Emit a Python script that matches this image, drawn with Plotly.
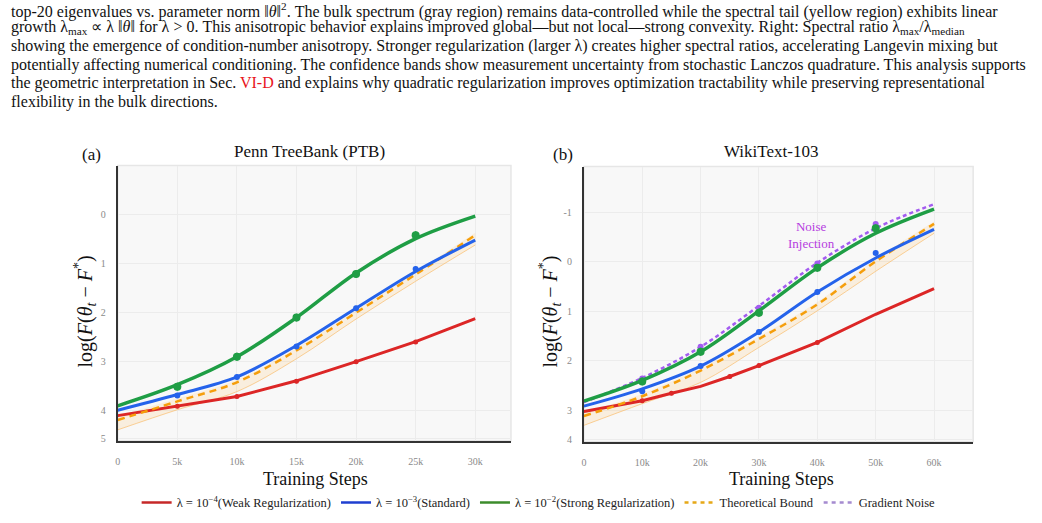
import plotly.graph_objects as go

# ---------------- data ----------------
steps_ptb = [0, 5000, 10000, 15000, 20000, 25000, 30000]
green_ptb = [3.91, 3.48, 2.91, 2.11, 1.20, 0.50, 0.04]
blue_ptb = [4.00, 3.68, 3.32, 2.68, 1.92, 1.17, 0.53]
red_ptb = [4.11, 3.92, 3.72, 3.40, 3.01, 2.60, 2.13]
theory_ptb = [4.20, 3.82, 3.43, 2.78, 2.01, 1.23, 0.43]
band_low_ptb = [4.40, 3.99, 3.62, 2.95, 2.14, 1.37, 0.63]
band_up_ptb = [4.12, 3.76, 3.38, 2.73, 1.96, 1.18, 0.38]

obs_steps_ptb = [5000, 10000, 15000, 20000, 25000]
green_obs_ptb = [3.52, 2.91, 2.11, 1.22, 0.43]
blue_obs_ptb = [3.70, 3.32, 2.70, 1.92, 1.12]
red_obs_ptb = [3.92, 3.72, 3.41, 3.01, 2.61]

steps_wt = [0, 10000, 20000, 30000, 40000, 50000, 60000]
green_wt = [2.82, 2.40, 1.82, 0.99, 0.12, -0.58, -1.07]
noise_wt = [2.84, 2.35, 1.72, 0.89, 0.02, -0.68, -1.17]
blue_wt = [2.92, 2.57, 2.11, 1.42, 0.61, -0.08, -0.66]
theory_wt = [3.12, 2.72, 2.20, 1.56, 0.86, -0.01, -0.77]
band_low_wt = [3.31, 2.87, 2.44, 1.73, 0.99, 0.19, -0.58]
band_up_wt = [3.05, 2.67, 2.15, 1.51, 0.81, -0.06, -0.82]
red_steps_wt = [0, 10000, 15000, 20000, 25000, 30000, 40000, 50000, 60000]
red_wt = [3.03, 2.81, 2.66, 2.52, 2.32, 2.10, 1.63, 1.06, 0.54]

obs_steps_wt = [10000, 20000, 30000, 40000, 50000]
green_obs_wt = [2.42, 1.82, 1.03, 0.12, -0.68]
noise_obs_wt = [2.36, 1.72, 0.93, 0.03, -0.77]
blue_obs_wt = [2.62, 2.11, 1.42, 0.61, -0.18]
red_obs_steps_wt = [10000, 15000, 25000, 30000, 40000]
red_obs_wt = [2.81, 2.66, 2.32, 2.10, 1.63]

ptb_xticks = [0, 5000, 10000, 15000, 20000, 25000, 30000]
ptb_xlabels = ["0", "5k", "10k", "15k", "20k", "25k", "30k"]
wt_xticks = [0, 10000, 20000, 30000, 40000, 50000, 60000]
wt_xlabels = ["0", "10k", "20k", "30k", "40k", "50k", "60k"]
ptb_yticks = [0, 1, 2, 3, 4, 4.57]
ptb_ylabels = ["0", "1", "2", "3", "4", "5"]
wt_yticks = [-1, 0, 1, 2, 3, 3.6]
wt_ylabels = ["-1", "0", "1", "2", "3", "4"]

legend_names = ["λ = 10<sup>−4</sup>(Weak Regularization)", "λ = 10<sup>−3</sup>(Standard)",
                "λ = 10<sup>−2</sup>(Strong Regularization)", "Theoretical Bound", "Gradient Noise"]

# ---------------- styles ----------------
RED = "#dc2626"
BLUE = "#2563eb"
GREEN = "#1f9e45"
ORANGE = "#f59e0b"
PURPLE = "#a35cf0"
SERIF = "Liberation Serif"

fig = go.Figure()


def add_panel(xa, ya, xs, green, blue, theory, blow, bup, red_x, red, obs_x, g_obs, b_obs, r_obs_x, r_obs,
              noise=None, noise_obs=None):
    fig.add_trace(go.Scatter(x=xs, y=blow, mode="lines", line=dict(color="rgba(249,190,110,0.7)", width=1,
                                                                   shape="spline"),
                             showlegend=False, hoverinfo="skip", xaxis=xa, yaxis=ya))
    fig.add_trace(go.Scatter(x=xs, y=bup, mode="lines", line=dict(color="rgba(249,190,110,0.0)", width=0,
                                                                  shape="spline"),
                             fill="tonexty", fillcolor="rgba(253,200,120,0.2)",
                             showlegend=False, hoverinfo="skip", xaxis=xa, yaxis=ya))
    fig.add_trace(go.Scatter(x=red_x, y=red, mode="lines", line=dict(color=RED, width=3),
                             showlegend=False, xaxis=xa, yaxis=ya))
    fig.add_trace(go.Scatter(x=r_obs_x, y=r_obs, mode="markers", marker=dict(color=RED, size=5),
                             error_y=dict(type="constant", value=0.04, color=RED, thickness=1.5, width=0),
                             showlegend=False, xaxis=xa, yaxis=ya))
    fig.add_trace(go.Scatter(x=xs, y=theory, mode="lines",
                             line=dict(color=ORANGE, width=2.5, dash="7px,5px", shape="spline"),
                             showlegend=False, xaxis=xa, yaxis=ya))
    fig.add_trace(go.Scatter(x=xs, y=blue, mode="lines", line=dict(color=BLUE, width=3, shape="spline"),
                             showlegend=False, xaxis=xa, yaxis=ya))
    fig.add_trace(go.Scatter(x=obs_x, y=b_obs, mode="markers", marker=dict(color=BLUE, size=6),
                             error_y=dict(type="constant", value=0.05, color=BLUE, thickness=1.5, width=0),
                             showlegend=False, xaxis=xa, yaxis=ya))
    if noise is not None:
        fig.add_trace(go.Scatter(x=xs, y=noise, mode="lines",
                                 line=dict(color=PURPLE, width=2.5, dash="4px,3px", shape="spline"),
                                 showlegend=False, xaxis=xa, yaxis=ya))
        fig.add_trace(go.Scatter(x=obs_x, y=noise_obs, mode="markers", marker=dict(color=PURPLE, size=6),
                                 showlegend=False, xaxis=xa, yaxis=ya))
    fig.add_trace(go.Scatter(x=xs, y=green, mode="lines", line=dict(color=GREEN, width=3.5, shape="spline"),
                             showlegend=False, xaxis=xa, yaxis=ya))
    fig.add_trace(go.Scatter(x=obs_x, y=g_obs, mode="markers", marker=dict(color=GREEN, size=8),
                             error_y=dict(type="constant", value=0.08, color=GREEN, thickness=1.5, width=0),
                             showlegend=False, xaxis=xa, yaxis=ya))


add_panel("x", "y", steps_ptb, green_ptb, blue_ptb, theory_ptb, band_low_ptb, band_up_ptb,
          steps_ptb, red_ptb, obs_steps_ptb, green_obs_ptb, blue_obs_ptb, obs_steps_ptb, red_obs_ptb)
add_panel("x2", "y2", steps_wt, green_wt, blue_wt, theory_wt, band_low_wt, band_up_wt,
          red_steps_wt, red_wt, obs_steps_wt, green_obs_wt, blue_obs_wt, red_obs_steps_wt, red_obs_wt,
          noise=noise_wt, noise_obs=noise_obs_wt)

leg_colors = ["#c62828", "#1f3fd0", "#3c8c2c", "#e6a817", "#a58bd0"]
leg_dash = ["solid", "solid", "solid", "4px,4px", "4px,4px"]
for name, c, d in zip(legend_names, leg_colors, leg_dash):
    fig.add_trace(go.Scatter(x=[None], y=[None], mode="lines", name=name,
                             line=dict(color=c, width=2.5, dash=d), xaxis="x", yaxis="y"))

axis_common = dict(showgrid=True, gridcolor="#ececec", gridwidth=1, zeroline=False,
                   showline=True, linecolor="#333333", linewidth=2, ticks="",
                   tickfont=dict(family=SERIF, size=10, color="#8a8a8a"))

fig.update_layout(
    width=1042, height=523, margin=dict(l=0, r=0, t=0, b=0),
    paper_bgcolor="white", plot_bgcolor="#f8f8f8",
    font=dict(family=SERIF),
    xaxis=dict(domain=[0.1113, 0.4894], range=[0, 33000], tickvals=ptb_xticks, ticktext=ptb_xlabels,
               anchor="y", ticklabelstandoff=10, **axis_common),
    yaxis=dict(domain=[0.151, 0.681], range=[4.62, -0.99], tickvals=ptb_yticks, ticktext=ptb_ylabels,
               anchor="x", ticklabelstandoff=8, **axis_common),
    xaxis2=dict(domain=[0.5595, 0.9338], range=[0, 66700], tickvals=wt_xticks, ticktext=wt_xlabels,
                anchor="y2", ticklabelstandoff=10, **axis_common),
    yaxis2=dict(domain=[0.149, 0.679], range=[3.64, -1.93], tickvals=wt_yticks, ticktext=wt_ylabels,
                anchor="x2", ticklabelstandoff=8, **axis_common),
    showlegend=True,
    legend=dict(orientation="h", x=0.516, xanchor="center", y=0.031, yanchor="middle",
                font=dict(family=SERIF, size=12.5, color="#222"), bgcolor="rgba(0,0,0,0)",
                itemwidth=30, tracegroupgap=0, traceorder="normal"),
)

for xr, yr in [("x domain", "y domain"), ("x2 domain", "y2 domain")]:
    fig.add_shape(type="rect", xref=xr, yref=yr, x0=0, x1=1, y0=0, y1=1,
                  line=dict(color="#e6e6e6", width=1.5), layer="below")

ann = []
caption = [
    "top-20 eigenvalues vs. parameter norm ‖<i>θ</i>‖<sup>2</sup>. The bulk spectrum (gray region) remains data-controlled while the spectral tail (yellow region) exhibits linear",
    "growth λ<sub>max</sub> ∝ λ ‖<i>θ</i>‖ for λ > 0. This anisotropic behavior explains improved global—but not local—strong convexity. Right: Spectral ratio λ<sub>max</sub>/λ<sub>median</sub>",
    "showing the emergence of condition-number anisotropy. Stronger regularization (larger λ) creates higher spectral ratios, accelerating Langevin mixing but",
    "potentially affecting numerical conditioning. The confidence bands show measurement uncertainty from stochastic Lanczos quadrature. This analysis supports",
    "the geometric interpretation in Sec. <span style='color:#e8141c'>VI-D</span> and explains why quadratic regularization improves optimization tractability while preserving representational",
    "flexibility in the bulk directions.",
]
cap_y = [11, 28, 46, 65, 84, 103]
for t, yy in zip(caption, cap_y):
    ann.append(dict(text=t, x=7 / 1042, y=1 - yy / 523, xref="paper", yref="paper", xanchor="left",
                    yanchor="middle", showarrow=False, font=dict(family=SERIF, size=16, color="#111")))


def txt(t, x, y, size, color="#111", angle=0):
    return dict(text=t, x=x / 1042, y=1 - y / 523, xref="paper", yref="paper", xanchor="center",
                yanchor="middle", showarrow=False, textangle=angle,
                font=dict(family=SERIF, size=size, color=color))


ann += [
    txt("Penn TreeBank (PTB)", 308, 153, 17),
    txt("WikiText-103", 770, 153, 17),
    txt("(a)", 90, 156, 17),
    txt("(b)", 562, 156, 17),
]
ytitle = "log(<i>F</i>(<i>θ<sub>t</sub></i> − <i>F</i><sup>*</sup>)"
for xx in [83, 549]:
    ann.append(txt(ytitle, xx, 314, 20, angle=-90))
for xx in [314, 781]:
    ann.append(txt("Training Steps", xx, 483, 18))
ann.append(dict(text="Noise<br>Injection", x=39000, y=-0.55, xref="x2", yref="y2", showarrow=False,
                xanchor="center", yanchor="middle",
                font=dict(family=SERIF, size=13, color="#b53de0")))
fig.update_layout(annotations=ann)

fig.write_html("out.html")
